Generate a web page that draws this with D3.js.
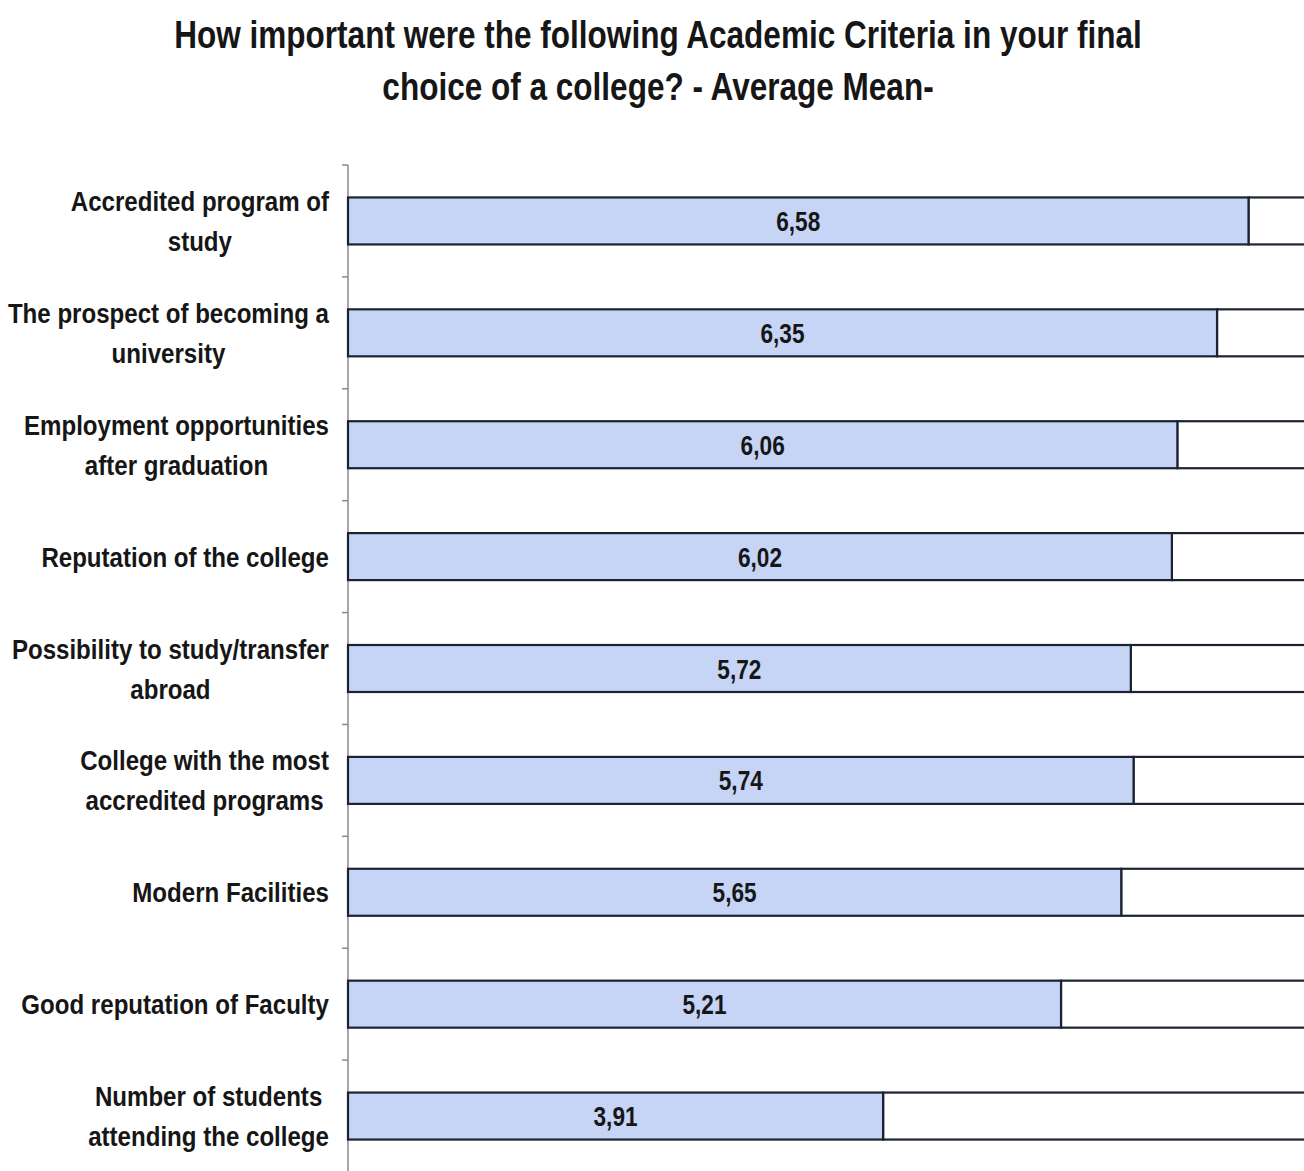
<!DOCTYPE html>
<html>
<head>
<meta charset="utf-8">
<script src="https://cdnjs.cloudflare.com/ajax/libs/d3/7.8.5/d3.min.js"></script>
<style>
  html, body { margin: 0; padding: 0; background: #fff; }
  svg { display: block; }
  text { font-family: "Liberation Sans", Arial, sans-serif; font-weight: bold; fill: #161616; }
</style>
</head>
<body>
<script>
// Survey criteria, listed top to bottom, with their average mean scores (scale max 7)
const categories = [
  ["Accredited program of", "study"],
  ["The prospect of becoming a", "university"],
  ["Employment opportunities", "after graduation"],
  ["Reputation of the college"],
  ["Possibility to study/transfer", "abroad"],
  ["College with the most", "accredited programs"],
  ["Modern Facilities"],
  ["Good reputation of Faculty"],
  ["Number of students", "attending the college"]
];
const values = [6.58, 6.35, 6.06, 6.02, 5.72, 5.74, 5.65, 5.21, 3.91];
const scaleMax = 7;
const titleLines = [
  "How important were the following Academic Criteria in your final",
  "choice of a college? - Average Mean-"
];

const W = 1304, H = 1171;
const svg = d3.select("body").append("svg").attr("width", W).attr("height", H);

// Condensed look: regular sans squeezed horizontally
const NARROW = 0.83;
const LABEL_NARROW = 0.845;

const keys = categories.map(c => c.join(" "));
const x = d3.scaleLinear().domain([0, scaleMax]).range([348, 1306]);
const y = d3.scaleBand().domain(keys).range([165, 1172]).paddingInner(0.58).paddingOuter(0.29);
const step = y.step();

// Title
svg.append("g").selectAll("text").data(titleLines).join("text")
  .attr("transform", (d, i) => `translate(658,${48 + i * 52}) scale(${NARROW},1)`)
  .attr("text-anchor", "middle")
  .style("font-size", "38px")
  .text(d => d);

// Category axis line with tick marks at band boundaries
const axisX = x(0);
svg.append("line")
  .attr("x1", axisX).attr("x2", axisX)
  .attr("y1", 165).attr("y2", H + 2)
  .attr("stroke", "#8a8a8a").attr("stroke-width", 1.5);
svg.append("g").selectAll("line").data(d3.range(categories.length)).join("line")
  .attr("x1", axisX - 6).attr("x2", axisX)
  .attr("y1", i => 165 + i * step).attr("y2", i => 165 + i * step)
  .attr("stroke", "#8a8a8a").attr("stroke-width", 1.5);

const rows = svg.append("g").selectAll("g").data(values).join("g");

// Remainder up to the scale maximum (white part)
rows.append("rect")
  .attr("x", d => x(d)).attr("y", (d, i) => y(keys[i]))
  .attr("width", d => x(scaleMax) - x(d)).attr("height", y.bandwidth())
  .attr("fill", "#fff").attr("stroke", "#1a2233").attr("stroke-width", 2.2);

// Mean value (blue part)
rows.append("rect")
  .attr("x", x(0)).attr("y", (d, i) => y(keys[i]))
  .attr("width", d => x(d) - x(0)).attr("height", y.bandwidth())
  .attr("fill", "#c6d4f6").attr("stroke", "#1a2233").attr("stroke-width", 2.2);

// Value labels centred in the blue bars
rows.append("text")
  .attr("transform", (d, i) =>
    `translate(${(x(0) + x(d)) / 2},${y(keys[i]) + y.bandwidth() / 2 + 10}) scale(0.84,1)`)
  .attr("text-anchor", "middle")
  .style("font-size", "27px")
  .text(d => d.toFixed(2).replace(".", ","));

// Category labels: each block centred on itself, right edge at x = 329
const labelRight = 329;
const labels = svg.append("g");
categories.forEach((lines, i) => {
  const cy = y(keys[i]) + y.bandwidth() / 2;
  const texts = labels.append("g").selectAll("text").data(lines).join("text")
    .attr("text-anchor", "middle")
    .style("font-size", "28.5px")
    .text(d => d);
  let maxW = 0;
  texts.each(function () { maxW = Math.max(maxW, this.getComputedTextLength() * LABEL_NARROW); });
  const cx = labelRight - maxW / 2;
  texts.attr("transform", (d, j) =>
    `translate(${cx},${cy + 10 + (j - (lines.length - 1) / 2) * 40}) scale(${LABEL_NARROW},1)`);
});
</script>
</body>
</html>
